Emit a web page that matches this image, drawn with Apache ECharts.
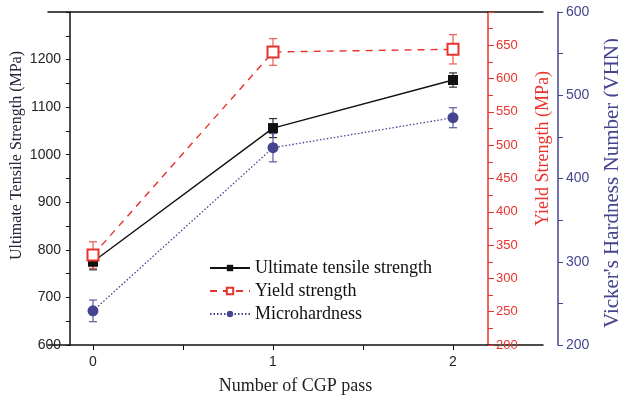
<!DOCTYPE html>
<html>
<head>
<meta charset="utf-8">
<script src="https://cdn.jsdelivr.net/npm/echarts@6/dist/echarts.min.js"></script>
<style>
html, body { margin: 0; padding: 0; background: #fff; }
#chart { width: 618px; height: 397px; }
</style>
</head>
<body>
<div id="chart"></div>
<script>
// number of CGP passes
const passes = [0, 1, 2];
const passLabels = [0, 1, 2];
const passTicks = [0, 0.5, 1, 1.5, 2];

// ultimate tensile strength (MPa), left axis
const utsValues = [775, 1056, 1157];
const utsErrors = [17, 20, 15];
// yield strength (MPa), red axis
const yieldValues = [335, 640, 644];
const yieldErrors = [20, 20, 22];
// microhardness (VHN), blue axis
const hardnessValues = [241, 437, 473];
const hardnessErrors = [13, 17, 12];

const serif = '"Liberation Serif", "DejaVu Serif", serif';
const sans = '"Liberation Sans", Arial, sans-serif';
const RED = '#e8322c';
const BLUE = '#45458f';

function plain(v) {
    return String(v);
}

function errorBars(values, errors, axisIndex, color) {
    return {
        type: 'custom',
        yAxisIndex: axisIndex,
        z: 1,
        silent: true,
        data: passes.map(function (p, i) {
            return [p, values[i] - errors[i], values[i] + errors[i]];
        }),
        encode: { x: 0, y: [1, 2] },
        renderItem: function (params, api) {
            const lo = api.coord([api.value(0), api.value(1)]);
            const hi = api.coord([api.value(0), api.value(2)]);
            const half = 4;
            const style = { stroke: color, lineWidth: 1.2, fill: null };
            return {
                type: 'group',
                children: [
                    { type: 'line', shape: { x1: lo[0], y1: lo[1], x2: hi[0], y2: hi[1] }, style: style },
                    { type: 'line', shape: { x1: lo[0] - half, y1: lo[1], x2: lo[0] + half, y2: lo[1] }, style: style },
                    { type: 'line', shape: { x1: hi[0] - half, y1: hi[1], x2: hi[0] + half, y2: hi[1] }, style: style }
                ]
            };
        }
    };
}

const chart = echarts.init(document.getElementById('chart'));
const option = {
    animation: false,
    backgroundColor: '#fff',
    grid: { left: 48, right: 75, top: 12, bottom: 52, outerBoundsMode: 'none' },
    legend: {
        data: ['Ultimate tensile strength', 'Yield strength', 'Microhardness'],
        orient: 'vertical',
        left: 209,
        top: 259,
        padding: 0,
        itemWidth: 40,
        itemHeight: 8,
        itemGap: 5,
        textStyle: { fontFamily: serif, fontSize: 18, color: '#111' }
    },
    xAxis: [{
        type: 'value',
        min: -0.25,
        max: 2.5,
        name: 'Number of CGP pass',
        nameLocation: 'middle',
        nameGap: 32,
        nameTextStyle: { fontFamily: serif, fontSize: 18, color: '#222' },
        splitLine: { show: false },
        axisLine: { onZero: false, lineStyle: { color: '#111', width: 1.5 } },
        axisTick: { customValues: passTicks, length: 5, lineStyle: { color: '#111' } },
        axisLabel: {
            customValues: passLabels,
            margin: 10,
            fontFamily: sans,
            fontSize: 14,
            color: '#222'
        }
    }, {
        type: 'value',
        position: 'top',
        min: -0.25,
        max: 2.5,
        splitLine: { show: false },
        axisLine: { onZero: false, lineStyle: { color: '#111', width: 1.5 } },
        axisTick: { show: false },
        axisLabel: { show: false }
    }],
    yAxis: [{
        type: 'value',
        position: 'left',
        offset: -22,
        min: 600,
        max: 1300,
        interval: 100,
        name: 'Ultimate Tensile Strength (MPa)',
        nameLocation: 'middle',
        nameGap: 45,
        nameMoveOverlap: false,
        nameTextStyle: { fontFamily: serif, fontSize: 16, color: '#24243a', padding: [0, 0, 0, 46] },
        splitLine: { show: false },
        axisLine: { show: true, onZero: false, lineStyle: { color: '#111', width: 1.5 } },
        axisTick: { show: true, length: 4, lineStyle: { color: '#111' } },
        minorTick: { show: true, splitNumber: 2, length: 4, lineStyle: { color: '#111' } },
        axisLabel: { showMaxLabel: false, formatter: plain, margin: 9, fontFamily: sans, fontSize: 14, color: '#222' }
    }, {
        type: 'value',
        position: 'right',
        offset: -55,
        min: 200,
        max: 700,
        interval: 50,
        name: 'Yield Strength (MPa)',
        nameLocation: 'middle',
        nameGap: 46,
        nameTextStyle: { fontFamily: serif, fontSize: 18, color: RED, padding: [0, 0, 0, 60] },
        splitLine: { show: false },
        axisLine: { show: true, onZero: false, lineStyle: { color: RED, width: 1.5 } },
        axisTick: { show: true, length: 6, lineStyle: { color: RED } },
        minorTick: { show: true, splitNumber: 2, length: 5, lineStyle: { color: RED } },
        axisLabel: { showMaxLabel: false, formatter: plain, margin: 8, fontFamily: sans, fontSize: 13, color: RED }
    }, {
        type: 'value',
        position: 'right',
        offset: 15,
        min: 200,
        max: 600,
        interval: 100,
        name: "Vicker's Hardness Number (VHN)",
        nameLocation: 'middle',
        nameGap: 44,
        nameTextStyle: { fontFamily: serif, fontSize: 21, color: BLUE, padding: [0, 9, 0, 0] },
        splitLine: { show: false },
        axisLine: { show: true, onZero: false, lineStyle: { color: BLUE, width: 1.5 } },
        axisTick: { show: true, length: 5, lineStyle: { color: BLUE } },
        minorTick: { show: true, splitNumber: 2, length: 5, lineStyle: { color: BLUE } },
        axisLabel: { formatter: plain, margin: 8, fontFamily: sans, fontSize: 14, color: BLUE }
    }],
    series: [
        errorBars(utsValues, utsErrors, 0, '#333'),
        errorBars(yieldValues, yieldErrors, 1, '#ee5a55'),
        errorBars(hardnessValues, hardnessErrors, 2, '#5a5a9c'),
        {
            name: 'Ultimate tensile strength',
            type: 'line',
            yAxisIndex: 0,
            z: 3,
            data: passes.map(function (p, i) { return [p, utsValues[i]]; }),
            symbol: 'rect',
            symbolSize: 10,
            itemStyle: { color: '#111' },
            lineStyle: { color: '#111', width: 1.4 }
        },
        {
            name: 'Yield strength',
            type: 'line',
            yAxisIndex: 1,
            z: 3,
            data: passes.map(function (p, i) { return [p, yieldValues[i]]; }),
            symbol: 'emptyRect',
            symbolSize: 11,
            itemStyle: { color: RED, borderWidth: 1.3 },
            lineStyle: { color: RED, width: 1.4, type: [7, 6] }
        },
        {
            name: 'Microhardness',
            type: 'line',
            yAxisIndex: 2,
            z: 3,
            data: passes.map(function (p, i) { return [p, hardnessValues[i]]; }),
            symbol: 'circle',
            symbolSize: 11,
            itemStyle: { color: BLUE },
            lineStyle: { color: BLUE, width: 1.3, type: [1.5, 2] }
        }
    ]
};
chart.setOption(option);
</script>
</body>
</html>
